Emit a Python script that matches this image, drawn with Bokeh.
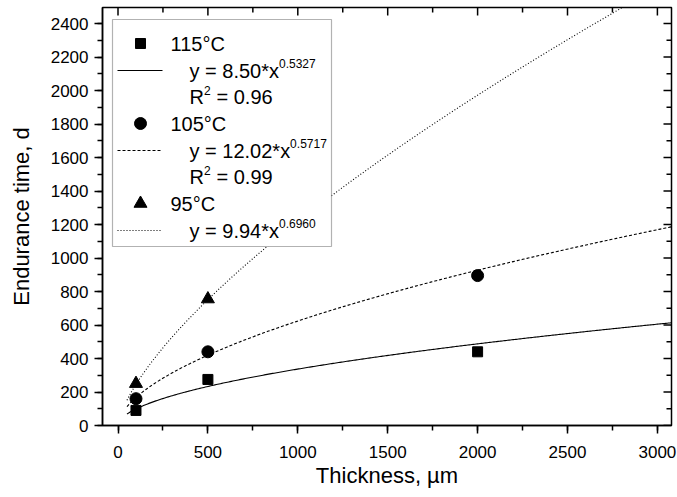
import numpy as np
from bokeh.plotting import figure
from bokeh.models import Range1d, SingleIntervalTicker, Label, BoxAnnotation
from bokeh.embed import file_html
from bokeh.resources import INLINE

# ---------------- data ----------------
thickness = [100, 500, 2000]
t115 = [90, 275, 440]
t105 = [160, 440, 895]
thickness95 = [100, 500]
t95 = [250, 755]

series_names = ["115°C", "105°C", "95°C"]
fit_a = [8.50, 12.02, 9.94]
fit_b = [0.5327, 0.5717, 0.6960]
fit_a_text = ["8.50", "12.02", "9.94"]
fit_b_text = ["0.5327", "0.5717", "0.6960"]
r2_text = ["0.96", "0.99", None]
fit_x_start, fit_x_end = 50, 3100

x_tick_step = 500
y_tick_step = 200

# ---------------- geometry ----------------
FONT = "Liberation Sans"
W, H = 677, 497
ML, MR, MT, MB = 102, 6, 7, 72
PAGE = 0
FX0 = 117.5          # page px of x = 0
XPX = 89.9 / 500     # px per unit x
FY0 = 425            # page px of y = 0
YPX = 402 / 2400     # px per unit y


def dx(px):
    return (px - FX0) / XPX


def dy(py):
    return (FY0 - py) / YPX


frame_left = PAGE + ML
frame_right = PAGE + W - MR
frame_top = PAGE + MT
frame_bottom = PAGE + H - MB
x0, x1 = dx(frame_left), dx(frame_right)
y0, y1 = dy(frame_bottom), dy(frame_top)

p = figure(width=W, height=H, output_backend="svg", toolbar_location=None,
           x_range=Range1d(x0, x1), y_range=Range1d(y0, y1),
           min_border_left=ML, min_border_right=MR, min_border_top=MT, min_border_bottom=MB)
p.grid.visible = False
p.outline_line_color = "black"
p.outline_line_width = 1.5
p.background_fill_color = "white"
p.border_fill_color = "white"

xt = SingleIntervalTicker(interval=x_tick_step, num_minor_ticks=2)
yt = SingleIntervalTicker(interval=y_tick_step, num_minor_ticks=2)

for ax, tk in ((p.xaxis[0], xt), (p.yaxis[0], yt)):
    ax.ticker = tk
    ax.axis_line_width = 1.5
    ax.major_tick_line_width = 1.5
    ax.minor_tick_line_width = 1.5
    ax.major_tick_in = 0
    ax.major_tick_out = 8
    ax.minor_tick_in = 0
    ax.minor_tick_out = 5
    ax.major_label_text_font = FONT
    ax.major_label_text_font_size = "17px"
    ax.major_label_text_color = "black"
    ax.axis_label_text_font = FONT
    ax.axis_label_text_font_size = "22px"
    ax.axis_label_text_font_style = "normal"
    ax.axis_label_text_color = "black"
p.xaxis[0].axis_label = "Thickness, µm"
p.yaxis[0].axis_label = "Endurance time, d"
p.xaxis[0].major_label_standoff = 12
p.xaxis[0].axis_label_standoff = 2
p.yaxis[0].major_label_standoff = 6
p.yaxis[0].axis_label_standoff = 14

# inward ticks on the top and right frame edges
xmaj = np.arange(0, x1, x_tick_step)
xmin = np.arange(x_tick_step / 2, x1, x_tick_step)
ymaj = np.arange(0, y1, y_tick_step)
ymin = np.arange(y_tick_step / 2, y1, y_tick_step)
for vals, ln in ((xmaj, 8), (xmin, 5)):
    p.segment(vals, [y1] * len(vals), vals, [y1 - ln / YPX] * len(vals), line_color="black", line_width=1.5)
for vals, ln in ((ymaj, 8), (ymin, 5)):
    p.segment([x1] * len(vals), vals, [x1 - ln / XPX] * len(vals), vals, line_color="black", line_width=1.5)

# ---------------- fit curves ----------------
dashes = ["solid", "3 2", "1 2"]
xs = np.linspace(fit_x_start, fit_x_end, 400)
for a, b, d in zip(fit_a, fit_b, dashes):
    p.line(xs, a * xs ** b, line_color="black", line_width=1.1, line_dash=d)

# ---------------- data points ----------------
p.scatter(thickness, t115, marker="square", size=10, color="black")
p.scatter(thickness, t105, marker="circle", size=12, color="black")
p.scatter(thickness95, t95, marker="triangle", size=13, color="black")

# ---------------- legend ----------------
p.add_layout(BoxAnnotation(left=dx(112), right=dx(331), top=dy(19), bottom=dy(246),
                           fill_color="white", fill_alpha=1, line_color="black", line_width=1.2))

LFS = 20
SFS = 12
rows = [43, 70, 96.5, 123, 150, 176.5, 203, 230]
markers = ["square", "circle", "triangle"]
msizes = [10, 12, 13]
em = {"y": .5, " ": .278, "=": .584, ".": .278, "*": .389, "x": .5, "R": .722}


def width_em(s):
    return sum(em.get(c, .556) for c in s)


def txt(px, py, s, fs=LFS):
    p.add_layout(Label(x=dx(px), y=dy(py), text=s, text_font=FONT, text_font_size=f"{fs}px",
                       text_baseline="middle", text_align="left", text_color="black"))


r = 0
for i in range(3):
    yrow = rows[r]
    p.scatter([dx(140)], [dy(yrow)], marker=markers[i], size=msizes[i], color="black", level="overlay")
    txt(170, yrow, series_names[i])
    r += 1
    yrow = rows[r]
    p.line([dx(117), dx(162)], [dy(yrow), dy(yrow)], line_color="black", line_width=1.1,
           line_dash=dashes[i], level="overlay")
    main = f"y = {fit_a_text[i]}*x"
    txt(189, yrow, main)
    txt(189 + width_em(main) * LFS, yrow - 7, fit_b_text[i], SFS)
    r += 1
    if r2_text[i] is not None:
        yrow = rows[r]
        txt(189, yrow, "R")
        txt(189 + em["R"] * LFS, yrow - 7, "2", SFS)
        txt(189 + em["R"] * LFS + 7 + em[" "] * LFS, yrow, f"= {r2_text[i]}")
        r += 1

open("out.html", "w").write(file_html(p, INLINE))
